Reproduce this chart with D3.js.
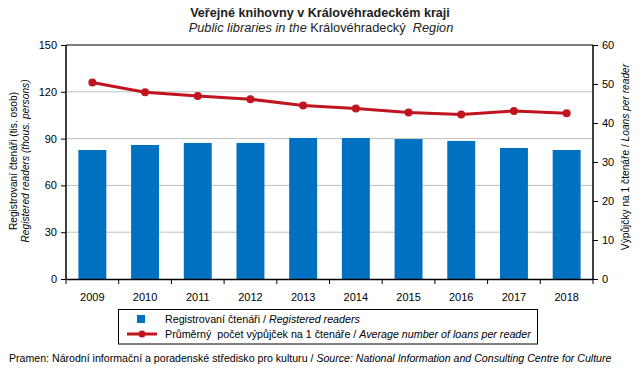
<!DOCTYPE html>
<html><head><meta charset="utf-8">
<script src="https://cdn.jsdelivr.net/npm/d3@7"></script>
<style>body{margin:0;background:#fff;font-family:"Liberation Sans",Arial,sans-serif;} text{white-space:pre;}</style>
</head><body><svg id="c" width="643" height="375"></svg>
<script>
const years = ["2009","2010","2011","2012","2013","2014","2015","2016","2017","2018"];
const readers = [82.7, 85.9, 87.2, 87.2, 90.4, 90.4, 89.7, 88.5, 84.0, 82.7];
const loans = [50.4, 47.9, 46.9, 46.1, 44.5, 43.7, 42.7, 42.2, 43.1, 42.5];
const leftTicks = [0, 30, 60, 90, 120, 150];
const rightTicks = [0, 10, 20, 30, 40, 50, 60];

const svg = d3.select("#c");
const L = 66, R = 593, T = 45, B = 279;
const x = d3.scaleBand().domain(years).range([L, R]).paddingInner(0.47).paddingOuter(0.235);
const xb = d3.scaleBand().domain(years).range([L, R]);
const yL = d3.scaleLinear().domain([0, 150]).range([B, T]);
const yR = d3.scaleLinear().domain([0, 60]).range([B, T]);
const font = "'Liberation Sans', Arial, sans-serif";

// gridlines
svg.append("g").selectAll("line").data(leftTicks.filter(d => d > 0 && d < 150)).join("line")
  .attr("x1", L).attr("x2", R).attr("y1", d => yL(d)).attr("y2", d => yL(d))
  .attr("stroke", "#bfbfbf").attr("stroke-width", 1);
svg.append("line").attr("x1", L).attr("x2", R).attr("y1", T).attr("y2", T).attr("stroke", "#000");

// bars
svg.append("g").selectAll("rect").data(years).join("rect")
  .attr("x", d => x(d)).attr("width", x.bandwidth())
  .attr("y", (d, i) => yL(readers[i])).attr("height", (d, i) => B - yL(readers[i]))
  .attr("fill", "#0070c0");

// axes
const axL = svg.append("g").attr("transform", `translate(${L},0)`)
  .call(d3.axisLeft(yL).tickValues(leftTicks).tickSize(5).tickPadding(4));
const axR = svg.append("g").attr("transform", `translate(${R},0)`)
  .call(d3.axisRight(yR).tickValues(rightTicks).tickSize(5).tickPadding(4));
const axB = svg.append("g").attr("transform", `translate(0,${B})`)
  .call(d3.axisBottom(xb).tickValues([]).tickSizeOuter(0));
svg.append("g").selectAll("line").data(d3.range(years.length + 1)).join("line")
  .attr("x1", i => L + i * xb.step()).attr("x2", i => L + i * xb.step())
  .attr("y1", B).attr("y2", B + 5).attr("stroke", "#000");
svg.append("g").selectAll("text").data(years).join("text")
  .attr("x", d => xb(d) + xb.bandwidth() / 2).attr("y", 301)
  .attr("text-anchor", "middle").attr("font-size", 11).attr("font-family", font).text(d => d);

[axL, axR, axB].forEach(g => {
  g.selectAll("path").attr("stroke", "#000").attr("stroke-width", 1.5);
  g.selectAll("line").attr("stroke", "#000");
  g.selectAll("text").attr("font-size", 11).attr("font-family", font).attr("fill", "#000");
});
axL.select("path").attr("d", `M0,${T}V${B}`);
axR.select("path").attr("d", `M0,${T}V${B}`);

// line
const lineGen = d3.line().x((d, i) => xb(years[i]) + xb.bandwidth() / 2).y(d => yR(d));
svg.append("path").datum(loans).attr("d", lineGen).attr("fill", "none")
  .attr("stroke", "#c0141e").attr("stroke-width", 3);
svg.append("g").selectAll("circle").data(loans).join("circle")
  .attr("cx", (d, i) => xb(years[i]) + xb.bandwidth() / 2).attr("cy", d => yR(d))
  .attr("r", 4).attr("fill", "#c0141e");

// titles
svg.append("text").attr("x", 320).attr("y", 17).attr("text-anchor", "middle")
  .attr("font-size", 12.6).attr("font-weight", "bold").attr("font-family", font).attr("fill", "#222")
  .text("Veřejné knihovny v Královéhradeckém kraji");
const st = svg.append("text").attr("x", 321).attr("y", 32).attr("text-anchor", "middle")
  .attr("font-size", 12.8).attr("font-family", font).attr("fill", "#222");
st.append("tspan").attr("font-style", "italic").text("Public libraries in the ");
st.append("tspan").text("Královéhradecký  ");
st.append("tspan").attr("font-style", "italic").text("Region");

// left axis title
const lt = svg.append("text").attr("transform", "translate(17,161) rotate(-90)")
  .attr("text-anchor", "middle").attr("font-size", 10.2).attr("font-family", font);
lt.append("tspan").attr("x", 0).attr("dy", 0).text("Registrovaní čtenáři (tis. osob)");
lt.append("tspan").attr("x", 0).attr("dy", 12).attr("font-style", "italic").text("Registered readers (thous. persons)");

// right axis title
const rt = svg.append("text").attr("transform", "translate(629,157) rotate(-90)")
  .attr("text-anchor", "middle").attr("font-size", 10.2).attr("font-family", font);
rt.append("tspan").text("Výpůjčky na 1 čtenáře / ");
rt.append("tspan").attr("font-style", "italic").text("Loans per reader");

// legend
svg.append("rect").attr("x", 118.5).attr("y", 309.5).attr("width", 419).attr("height", 34.5)
  .attr("fill", "none").attr("stroke", "#000").attr("stroke-width", 1);
svg.append("rect").attr("x", 137).attr("y", 315).attr("width", 8).attr("height", 8).attr("fill", "#0070c0");
svg.append("line").attr("x1", 127).attr("x2", 157).attr("y1", 334).attr("y2", 334)
  .attr("stroke", "#c0141e").attr("stroke-width", 3);
svg.append("circle").attr("cx", 142).attr("cy", 334).attr("r", 3.5).attr("fill", "#c0141e");
const l1 = svg.append("text").attr("x", 165).attr("y", 323).attr("font-size", 10.7).attr("font-family", font);
l1.append("tspan").text("Registrovaní čtenáři / ");
l1.append("tspan").attr("font-style", "italic").text("Registered readers");
const l2 = svg.append("text").attr("x", 165).attr("y", 338).attr("font-size", 10.7).attr("font-family", font);
l2.append("tspan").text("Průměrný  počet výpůjček na 1 čtenáře / ");
l2.append("tspan").attr("font-style", "italic").text("Average number of loans per reader");

// source
const src = svg.append("text").attr("x", 9).attr("y", 362).attr("font-size", 10.6).attr("font-family", font);
src.append("tspan").text("Pramen: Národní informační a poradenské středisko pro kulturu / ");
src.append("tspan").attr("font-style", "italic").text("Source: National Information and Consulting Centre for Culture");
</script></body></html>
